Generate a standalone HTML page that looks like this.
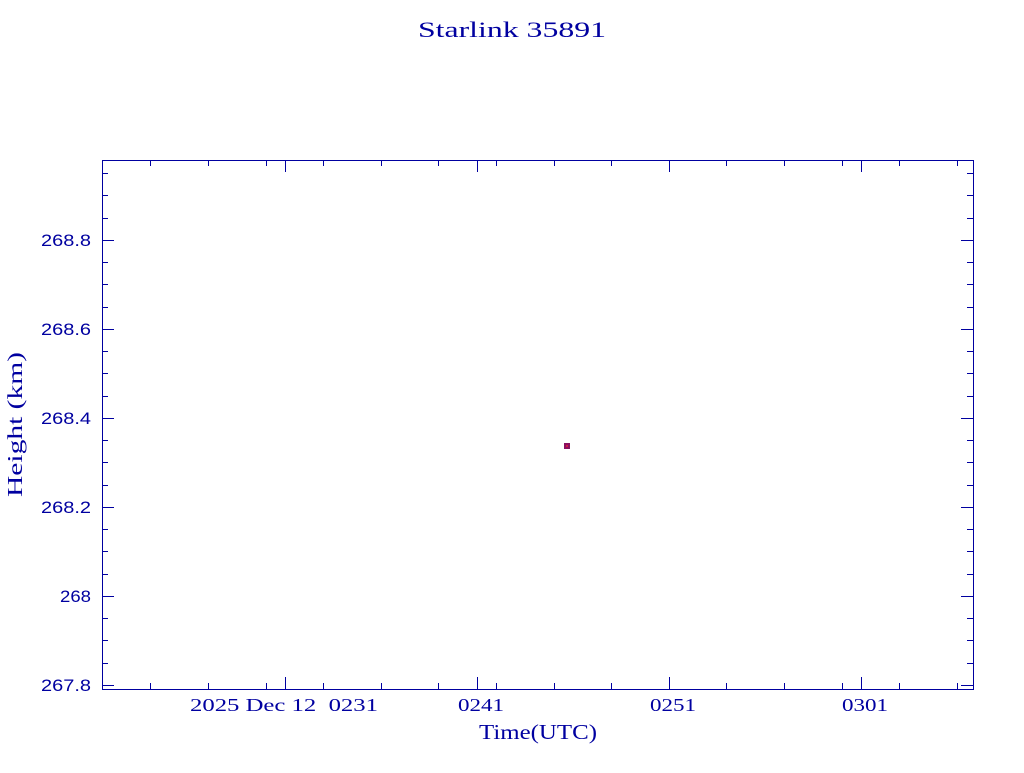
<!DOCTYPE html>
<html><head><meta charset="utf-8"><style>html,body{margin:0;padding:0;background:#fff}</style></head>
<body>
<svg width="1024" height="768" xmlns="http://www.w3.org/2000/svg">
<rect width="1024" height="768" fill="#fff"/>
<g fill="#0000a0" font-family="Liberation Serif, serif">
<text x="418" y="37" font-size="22" textLength="188" lengthAdjust="spacingAndGlyphs">Starlink 35891</text>
<text x="479" y="739" font-size="21" textLength="118" lengthAdjust="spacingAndGlyphs">Time(UTC)</text>
<text transform="translate(22,497) rotate(-90)" font-size="21" textLength="145" lengthAdjust="spacingAndGlyphs">Height (km)</text>
</g>
<g fill="#0000a0" font-family="Liberation Sans, sans-serif" font-size="17">
<text x="41" y="246" textLength="50" lengthAdjust="spacingAndGlyphs">268.8</text>
<text x="41" y="335" textLength="50" lengthAdjust="spacingAndGlyphs">268.6</text>
<text x="41" y="424" textLength="50" lengthAdjust="spacingAndGlyphs">268.4</text>
<text x="41" y="513" textLength="50" lengthAdjust="spacingAndGlyphs">268.2</text>
<text x="60" y="602" textLength="31" lengthAdjust="spacingAndGlyphs">268</text>
<text x="41" y="691" textLength="50" lengthAdjust="spacingAndGlyphs">267.8</text>
</g>
<g fill="#0000a0" font-family="Liberation Serif, serif" font-size="18">
<text x="190" y="711" xml:space="preserve" textLength="188" lengthAdjust="spacingAndGlyphs">2025 Dec 12  0231</text>
<text x="458" y="711" textLength="46" lengthAdjust="spacingAndGlyphs">0241</text>
<text x="650" y="711" textLength="46" lengthAdjust="spacingAndGlyphs">0251</text>
<text x="842" y="711" textLength="46" lengthAdjust="spacingAndGlyphs">0301</text>
</g>
<g stroke="#0000a0" stroke-width="1" fill="none" shape-rendering="crispEdges">
<rect x="102.5" y="160.5" width="871" height="529"/>
<path d="M102 240.5h12M102 329.5h12M102 418.5h12M102 507.5h12M102 596.5h12M102 685.5h12
M973 240.5h-12M973 329.5h-12M973 418.5h-12M973 507.5h-12M973 596.5h-12M973 685.5h-12
M102 173.5h6M102 195.5h6M102 218.5h6M102 262.5h6M102 284.5h6M102 307.5h6M102 351.5h6M102 373.5h6M102 396.5h6M102 440.5h6M102 462.5h6M102 485.5h6M102 529.5h6M102 551.5h6M102 574.5h6M102 618.5h6M102 640.5h6M102 663.5h6
M973 173.5h-6M973 195.5h-6M973 218.5h-6M973 262.5h-6M973 284.5h-6M973 307.5h-6M973 351.5h-6M973 373.5h-6M973 396.5h-6M973 440.5h-6M973 462.5h-6M973 485.5h-6M973 529.5h-6M973 551.5h-6M973 574.5h-6M973 618.5h-6M973 640.5h-6M973 663.5h-6
M285.5 689v-12M477.5 689v-12M669.5 689v-12M861.5 689v-12
M285.5 160v12M477.5 160v12M669.5 160v12M861.5 160v12
M150.5 689v-6M208.5 689v-6M266.5 689v-6M323.5 689v-6M381.5 689v-6M438.5 689v-6M496.5 689v-6M554.5 689v-6M611.5 689v-6M669.5 689v-6M726.5 689v-6M784.5 689v-6M842.5 689v-6M899.5 689v-6M957.5 689v-6
M150.5 160v6M208.5 160v6M266.5 160v6M323.5 160v6M381.5 160v6M438.5 160v6M496.5 160v6M554.5 160v6M611.5 160v6M669.5 160v6M726.5 160v6M784.5 160v6M842.5 160v6M899.5 160v6M957.5 160v6"/>
</g>
<rect x="564" y="443" width="6" height="6" fill="#8a1060"/>
<rect x="566" y="445" width="2" height="2" fill="#d02040"/>
</svg>
</body></html>
